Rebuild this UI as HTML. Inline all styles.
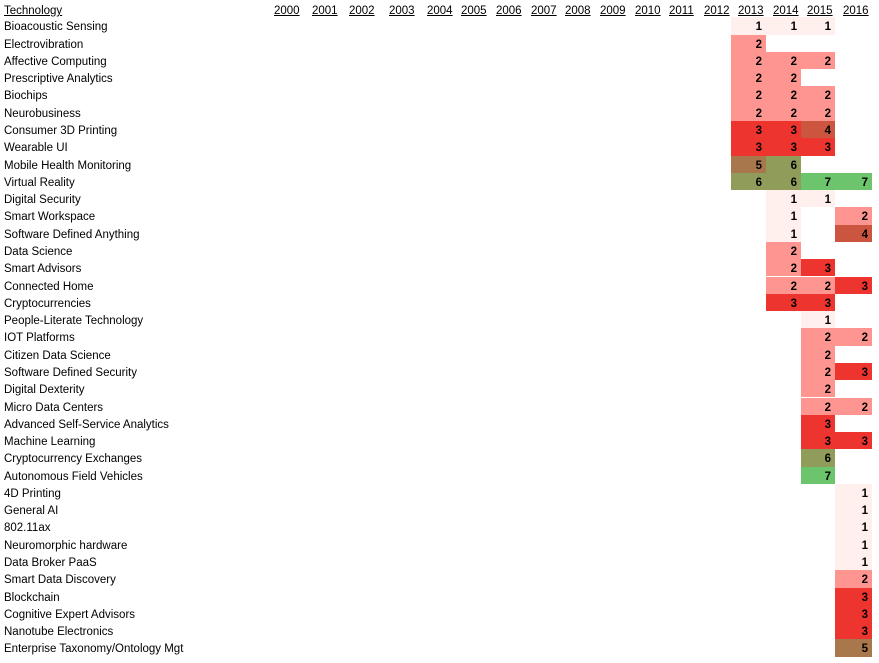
<!DOCTYPE html>
<html><head><meta charset="utf-8"><style>
body{margin:0;width:879px;height:663px;background:#fff;position:relative;overflow:hidden;font-family:"Liberation Sans",sans-serif;font-size:11.5px;color:#000}
.l{position:absolute;left:4px;height:17.28px;line-height:21px;white-space:nowrap}
.h{position:absolute;top:0;height:17.3px;line-height:22px;text-decoration:underline;font-size:11.5px}
.c{position:absolute;height:17.3px;line-height:20px;overflow:hidden;text-align:right;font-weight:bold;box-sizing:border-box;padding-right:4px;font-size:11.5px}
.a{left:731px;width:35px}.b{left:766px;width:35px}.d{left:801px;width:34px}.e{left:835px;width:37px}
.v1{background:#fff0ee}.v2{background:#ff9590}.v3{background:#ee342e}.v4{background:#cc5540}.v5{background:#a8784c}.v6{background:#8f9c5a}.v7{background:#6cc46c}
</style></head><body>
<div class="h" style="left:4px">Technology</div>
<div class="h" style="left:274px">2000</div><div class="h" style="left:312px">2001</div><div class="h" style="left:349px">2002</div><div class="h" style="left:389px">2003</div><div class="h" style="left:427px">2004</div><div class="h" style="left:461px">2005</div><div class="h" style="left:496px">2006</div><div class="h" style="left:531px">2007</div><div class="h" style="left:565px">2008</div><div class="h" style="left:600px">2009</div><div class="h" style="left:635px">2010</div><div class="h" style="left:669px">2011</div><div class="h" style="left:704px">2012</div><div class="h" style="left:738px">2013</div><div class="h" style="left:773px">2014</div><div class="h" style="left:807px">2015</div><div class="h" style="left:843px">2016</div>

<div class="l" style="top:17.3px">Bioacoustic Sensing</div>
<div class="l" style="top:34.6px">Electrovibration</div>
<div class="l" style="top:51.9px">Affective Computing</div>
<div class="l" style="top:69.1px">Prescriptive Analytics</div>
<div class="l" style="top:86.4px">Biochips</div>
<div class="l" style="top:103.7px">Neurobusiness</div>
<div class="l" style="top:121.0px">Consumer 3D Printing</div>
<div class="l" style="top:138.3px">Wearable UI</div>
<div class="l" style="top:155.5px">Mobile Health Monitoring</div>
<div class="l" style="top:172.8px">Virtual Reality</div>
<div class="l" style="top:190.1px">Digital Security</div>
<div class="l" style="top:207.4px">Smart Workspace</div>
<div class="l" style="top:224.7px">Software Defined Anything</div>
<div class="l" style="top:241.9px">Data Science</div>
<div class="l" style="top:259.2px">Smart Advisors</div>
<div class="l" style="top:276.5px">Connected Home</div>
<div class="l" style="top:293.8px">Cryptocurrencies</div>
<div class="l" style="top:311.1px">People-Literate Technology</div>
<div class="l" style="top:328.3px">IOT Platforms</div>
<div class="l" style="top:345.6px">Citizen Data Science</div>
<div class="l" style="top:362.9px">Software Defined Security</div>
<div class="l" style="top:380.2px">Digital Dexterity</div>
<div class="l" style="top:397.5px">Micro Data Centers</div>
<div class="l" style="top:414.7px">Advanced Self-Service Analytics</div>
<div class="l" style="top:432.0px">Machine Learning</div>
<div class="l" style="top:449.3px">Cryptocurrency Exchanges</div>
<div class="l" style="top:466.6px">Autonomous Field Vehicles</div>
<div class="l" style="top:483.9px">4D Printing</div>
<div class="l" style="top:501.1px">General AI</div>
<div class="l" style="top:518.4px">802.11ax</div>
<div class="l" style="top:535.7px">Neuromorphic hardware</div>
<div class="l" style="top:553.0px">Data Broker PaaS</div>
<div class="l" style="top:570.3px">Smart Data Discovery</div>
<div class="l" style="top:587.5px">Blockchain</div>
<div class="l" style="top:604.8px">Cognitive Expert Advisors</div>
<div class="l" style="top:622.1px">Nanotube Electronics</div>
<div class="l" style="top:639.4px">Enterprise Taxonomy/Ontology Mgt</div>

<div class="c a v1" style="top:17.3px">1</div><div class="c b v1" style="top:17.3px">1</div><div class="c d v1" style="top:17.3px">1</div>
<div class="c a v2" style="top:34.6px">2</div>
<div class="c a v2" style="top:51.9px">2</div><div class="c b v2" style="top:51.9px">2</div><div class="c d v2" style="top:51.9px">2</div>
<div class="c a v2" style="top:69.1px">2</div><div class="c b v2" style="top:69.1px">2</div>
<div class="c a v2" style="top:86.4px">2</div><div class="c b v2" style="top:86.4px">2</div><div class="c d v2" style="top:86.4px">2</div>
<div class="c a v2" style="top:103.7px">2</div><div class="c b v2" style="top:103.7px">2</div><div class="c d v2" style="top:103.7px">2</div>
<div class="c a v3" style="top:121.0px">3</div><div class="c b v3" style="top:121.0px">3</div><div class="c d v4" style="top:121.0px">4</div>
<div class="c a v3" style="top:138.3px">3</div><div class="c b v3" style="top:138.3px">3</div><div class="c d v3" style="top:138.3px">3</div>
<div class="c a v5" style="top:155.5px">5</div><div class="c b v6" style="top:155.5px">6</div>
<div class="c a v6" style="top:172.8px">6</div><div class="c b v6" style="top:172.8px">6</div><div class="c d v7" style="top:172.8px">7</div><div class="c e v7" style="top:172.8px">7</div>
<div class="c b v1" style="top:190.1px">1</div><div class="c d v1" style="top:190.1px">1</div>
<div class="c b v1" style="top:207.4px">1</div><div class="c e v2" style="top:207.4px">2</div>
<div class="c b v1" style="top:224.7px">1</div><div class="c e v4" style="top:224.7px">4</div>
<div class="c b v2" style="top:241.9px">2</div>
<div class="c b v2" style="top:259.2px">2</div><div class="c d v3" style="top:259.2px">3</div>
<div class="c b v2" style="top:276.5px">2</div><div class="c d v2" style="top:276.5px">2</div><div class="c e v3" style="top:276.5px">3</div>
<div class="c b v3" style="top:293.8px">3</div><div class="c d v3" style="top:293.8px">3</div>
<div class="c d v1" style="top:311.1px">1</div>
<div class="c d v2" style="top:328.3px">2</div><div class="c e v2" style="top:328.3px">2</div>
<div class="c d v2" style="top:345.6px">2</div>
<div class="c d v2" style="top:362.9px">2</div><div class="c e v3" style="top:362.9px">3</div>
<div class="c d v2" style="top:380.2px">2</div>
<div class="c d v2" style="top:397.5px">2</div><div class="c e v2" style="top:397.5px">2</div>
<div class="c d v3" style="top:414.7px">3</div>
<div class="c d v3" style="top:432.0px">3</div><div class="c e v3" style="top:432.0px">3</div>
<div class="c d v6" style="top:449.3px">6</div>
<div class="c d v7" style="top:466.6px">7</div>
<div class="c e v1" style="top:483.9px">1</div>
<div class="c e v1" style="top:501.1px">1</div>
<div class="c e v1" style="top:518.4px">1</div>
<div class="c e v1" style="top:535.7px">1</div>
<div class="c e v1" style="top:553.0px">1</div>
<div class="c e v2" style="top:570.3px">2</div>
<div class="c e v3" style="top:587.5px">3</div>
<div class="c e v3" style="top:604.8px">3</div>
<div class="c e v3" style="top:622.1px">3</div>
<div class="c e v5" style="top:639.4px">5</div>
</body></html>
